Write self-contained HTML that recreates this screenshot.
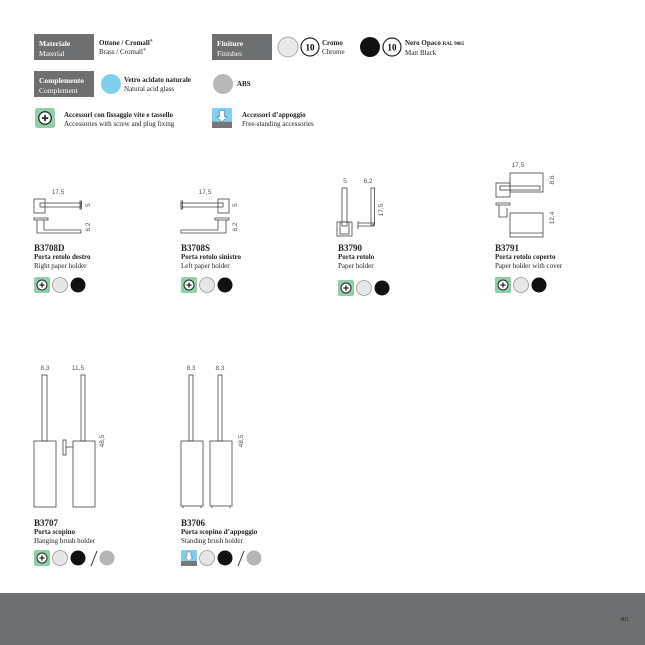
<!DOCTYPE html>
<html><head><meta charset="utf-8"><style>
*{margin:0;padding:0;box-sizing:border-box}
body{width:645px;height:645px;position:relative;background:#fff;font-family:"Liberation Serif",serif;color:#222;overflow:hidden}
.a{position:absolute;white-space:nowrap;line-height:1}
.box{position:absolute;background:#6d6f70;color:#fff;font-size:7.5px;padding:5px 5px;line-height:10px;width:60px;height:26px}
.b{font-weight:bold}
.t{font-size:7px;line-height:9px}
.code{font-size:9px;font-weight:bold}
.footer{position:absolute;left:0;top:593px;width:645px;height:52px;background:#6c7070}
.r{font-size:4px;position:relative;top:-3px;line-height:0}
</style></head><body>

<div class="box" style="left:34px;top:34px"><span class="b">Materiale</span><br>Material</div>
<div class="a t" style="left:99px;top:39px"><span class="b">Ottone / Cromall<span class="r">®</span></span><br>Brass / Cromall<span class="r">®</span></div>
<div class="box" style="left:212px;top:34px"><span class="b">Finiture</span><br>Finishes</div>
<div class="a t" style="left:322px;top:39px"><span class="b">Cromo</span><br>Chrome</div>
<div class="a t" style="left:405px;top:39px"><span class="b">Nero Opaco <span style="font-size:5px">RAL 9005</span></span><br>Matt Black</div>
<div class="box" style="left:34px;top:71px"><span class="b">Complemento</span><br>Complement</div>
<div class="a t" style="left:124px;top:76px"><span class="b">Vetro acidato naturale</span><br>Natural acid glass</div>
<div class="a t b" style="left:237px;top:80px">ABS</div>
<div class="a t" style="left:64px;top:111px"><span class="b">Accessori con fissaggio vite e tassello</span><br>Accessories with screw and plug fixing</div>
<div class="a t" style="left:242px;top:111px"><span class="b">Accessori d’appoggio</span><br>Free-standing accessories</div>

<div class="a" style="left:34px;top:244px"><div class="code">B3708D</div><div class="t b">Porta rotolo destro</div><div class="t">Right paper holder</div></div>
<div class="a" style="left:181px;top:244px"><div class="code">B3708S</div><div class="t b">Porta rotolo sinistro</div><div class="t">Left paper holder</div></div>
<div class="a" style="left:338px;top:244px"><div class="code">B3790</div><div class="t b">Porta rotolo</div><div class="t">Paper holder</div></div>
<div class="a" style="left:495px;top:244px"><div class="code">B3791</div><div class="t b">Porta rotolo coperto</div><div class="t">Paper holder with cover</div></div>
<div class="a" style="left:34px;top:519px"><div class="code">B3707</div><div class="t b">Porta scopino</div><div class="t">Hanging brush holder</div></div>
<div class="a" style="left:181px;top:519px"><div class="code">B3706</div><div class="t b">Porta scopino d’appoggio</div><div class="t">Standing brush holder</div></div>

<svg width="645" height="645" style="position:absolute;left:0;top:0" xmlns="http://www.w3.org/2000/svg">
<defs>
<g id="plus"><rect width="16" height="16" rx="2" fill="#8fd0a8"/><circle cx="8" cy="8" r="5" fill="#fff" stroke="#222" stroke-width="1"/><path d="M8 5.5v5M5.5 8h5" stroke="#222" stroke-width="1.3"/></g>
<g id="stand"><rect width="16" height="16" rx="1" fill="#7fd0f0"/><rect y="11" width="16" height="5" fill="#777"/><path d="M6 2h4v5h2l-4 4-4-4h2z" fill="#fff" stroke="#555" stroke-width=".4"/></g>
<g id="chr"><circle r="7.5" fill="#e6e6e6" stroke="#999" stroke-width=".8"/></g>
<g id="blk"><circle r="7.5" fill="#111"/></g>
<g id="gry"><circle r="7.5" fill="#b5b5b5"/></g>
</defs>
<circle cx="288" cy="47" r="10" fill="#e8e8e8" stroke="#aaa"/>
<circle cx="310" cy="47" r="9" fill="#fff" stroke="#222" stroke-width="1.2"/><text x="310" y="50.5" font-size="9" font-weight="bold" text-anchor="middle" font-family="Liberation Serif">10</text>
<circle cx="370" cy="47" r="10" fill="#111"/>
<circle cx="392" cy="47" r="9" fill="#fff" stroke="#222" stroke-width="1.2"/><text x="392" y="50.5" font-size="9" font-weight="bold" text-anchor="middle" font-family="Liberation Serif">10</text>
<circle cx="111" cy="84" r="10" fill="#7fd0f0"/>
<circle cx="223" cy="84" r="10" fill="#b8b8b8"/>
<use href="#plus" transform="translate(35,108) scale(1.25)"/>
<use href="#stand" transform="translate(212,108) scale(1.25)"/>

<g transform="translate(34,277)"><use href="#plus"/><use href="#chr" x="26" y="8"/><use href="#blk" x="44" y="8"/></g>
<g transform="translate(181,277)"><use href="#plus"/><use href="#chr" x="26" y="8"/><use href="#blk" x="44" y="8"/></g>
<g transform="translate(338,280)"><use href="#plus"/><use href="#chr" x="26" y="8"/><use href="#blk" x="44" y="8"/></g>
<g transform="translate(495,277)"><use href="#plus"/><use href="#chr" x="26" y="8"/><use href="#blk" x="44" y="8"/></g>
<g transform="translate(34,550)"><use href="#plus"/><use href="#chr" x="26" y="8"/><use href="#blk" x="44" y="8"/><path d="M57 16L63 1" stroke="#333"/><use href="#gry" x="73" y="8"/></g>
<g transform="translate(181,550)"><use href="#stand"/><use href="#chr" x="26" y="8"/><use href="#blk" x="44" y="8"/><path d="M57 16L63 1" stroke="#333"/><use href="#gry" x="73" y="8"/></g>

<g fill="none" stroke="#444" stroke-width=".8">
<rect x="34" y="199" width="11" height="14"/><rect x="40" y="203" width="41" height="4"/><rect x="80" y="201" width="1.5" height="8"/>
<path d="M34 218h14v2h-14zM37 220v13h44v-3h-37v-10"/>
<rect x="218" y="199" width="11" height="14"/><rect x="181" y="203" width="42" height="4"/><rect x="181" y="201" width="1.5" height="8"/>
<path d="M215 218h14v2h-14zM226 220v13h-45v-3h37v-10"/>
<rect x="342" y="188" width="5" height="38"/><rect x="337" y="222" width="15" height="14"/><rect x="340" y="222" width="9" height="12"/>
<rect x="371" y="188" width="3.5" height="37"/><path d="M358 223h16v3h-16zM358 221v8"/>
<rect x="510" y="173" width="33" height="19"/><rect x="496" y="183" width="14" height="14"/><rect x="500" y="186" width="40" height="4"/>
<path d="M496 203h14v2h-14zM499 205v12h8v-9"/><rect x="510" y="213" width="33" height="24"/><path d="M510 233h33"/>
<rect x="42" y="375" width="5" height="66"/><rect x="34" y="441" width="22" height="66"/>
<rect x="81" y="375" width="4" height="66"/><rect x="73" y="441" width="22" height="66"/>
<rect x="63" y="440" width="3" height="15"/><path d="M66 447h7"/>
<rect x="189" y="375" width="4" height="66"/><rect x="181" y="441" width="22" height="65"/><path d="M183 506v2M201 506v2"/>
<rect x="218" y="375" width="4" height="66"/><rect x="210" y="441" width="22" height="65"/><path d="M212 506v2M230 506v2"/>
</g>
<g font-family="Liberation Sans" font-size="6.5" fill="#555" text-anchor="middle">
<text x="58" y="194">17,5</text><text x="205" y="194">17,5</text>
<text x="345" y="183">5</text><text x="368" y="183">6,2</text>
<text x="518" y="167">17,5</text>
<text x="45" y="370">8,3</text><text x="78" y="370">11,5</text>
<text x="191" y="370">8,3</text><text x="220" y="370">8,3</text>
<text transform="translate(90,205) rotate(-90)">5</text><text transform="translate(90,227) rotate(-90)">6,2</text>
<text transform="translate(237,205) rotate(-90)">5</text><text transform="translate(237,227) rotate(-90)">6,2</text>
<text transform="translate(383,210) rotate(-90)">17,5</text>
<text transform="translate(554,180) rotate(-90)">8,6</text><text transform="translate(554,218) rotate(-90)">12,4</text>
<text transform="translate(104,441) rotate(-90)">48,5</text><text transform="translate(243,441) rotate(-90)">48,5</text>
</g>
</svg>

<div class="footer"></div>
<div class="a" style="left:620px;top:617px;font-size:6px;color:#222">401</div>
</body></html>
